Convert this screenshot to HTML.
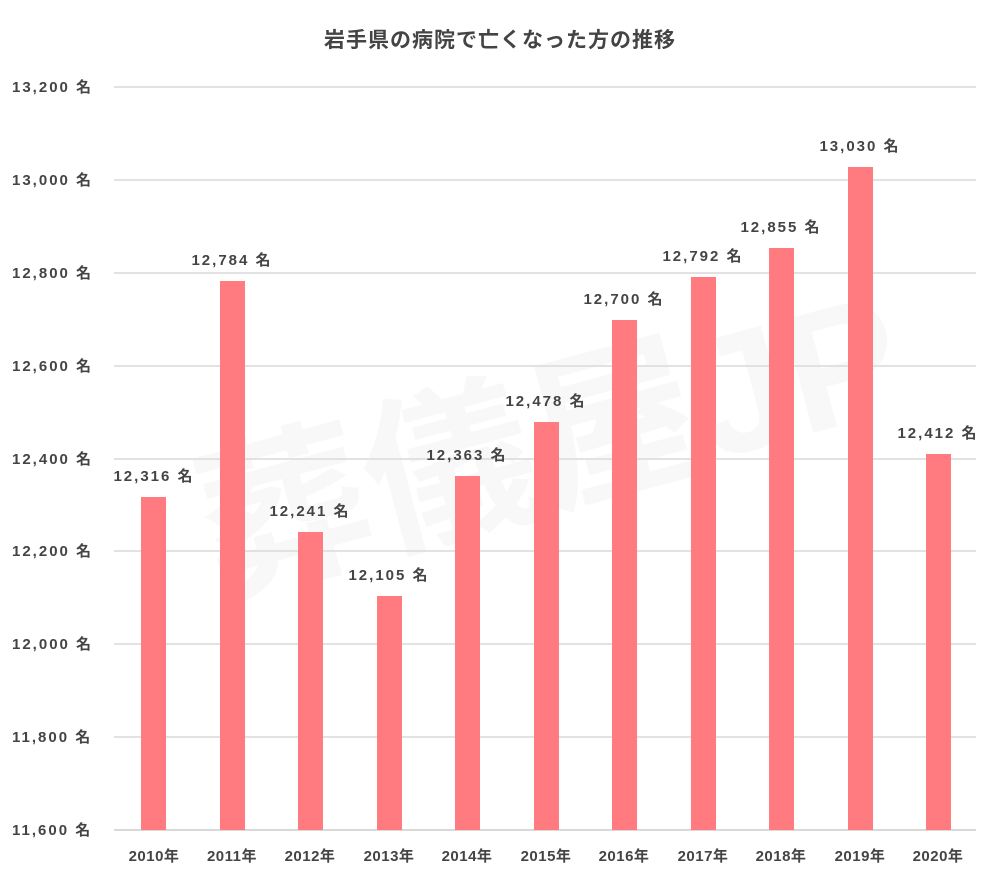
<!DOCTYPE html>
<html><head><meta charset="utf-8"><style>
body{margin:0;background:#fff}
text{font-family:"Liberation Sans","Noto Sans CJK JP",sans-serif;fill:#444;font-weight:bold}
</style></head><body>
<svg width="1000" height="883" xmlns="http://www.w3.org/2000/svg">
<rect width="1000" height="883" fill="#fff"/>
<text x="500" y="47" font-size="21" text-anchor="middle" fill="#555" letter-spacing="1">岩手県の病院で亡くなった方の推移</text>
<text x="560" y="500" font-size="170" text-anchor="middle" fill="#000" fill-opacity="0.04" transform="rotate(-15 560 480)">葬儀屋JP</text>
<g stroke="#d9d9d9" stroke-width="1.5">
<line x1="114" x2="976" y1="87" y2="87"/><line x1="114" x2="976" y1="180" y2="180"/>
<line x1="114" x2="976" y1="273" y2="273"/><line x1="114" x2="976" y1="366" y2="366"/>
<line x1="114" x2="976" y1="459" y2="459"/><line x1="114" x2="976" y1="551" y2="551"/>
<line x1="114" x2="976" y1="644" y2="644"/><line x1="114" x2="976" y1="737" y2="737"/>
<line x1="114" x2="976" y1="830" y2="830" stroke-width="2"/>
</g>
<g font-size="15" letter-spacing="2">
<text x="12" y="92">13,200 名</text><text x="12" y="185">13,000 名</text>
<text x="12" y="278">12,800 名</text><text x="12" y="371">12,600 名</text>
<text x="12" y="464">12,400 名</text><text x="12" y="556">12,200 名</text>
<text x="12" y="649">12,000 名</text><text x="12" y="742">11,800 名</text>
<text x="12" y="835">11,600 名</text>
</g>
<g fill="#ff7b80">
<rect x="141" y="497" width="25" height="333"/>
<rect x="220" y="281" width="25" height="549"/>
<rect x="298" y="532" width="25" height="298"/>
<rect x="377" y="596" width="25" height="234"/>
<rect x="455" y="476" width="25" height="354"/>
<rect x="534" y="422" width="25" height="408"/>
<rect x="612" y="320" width="25" height="510"/>
<rect x="691" y="277" width="25" height="553"/>
<rect x="769" y="248" width="25" height="582"/>
<rect x="848" y="167" width="25" height="663"/>
<rect x="926" y="454" width="25" height="376"/>
</g>
<g font-size="15" text-anchor="middle" letter-spacing="2">
<text x="154" y="481">12,316 名</text><text x="232" y="265">12,784 名</text>
<text x="310" y="516">12,241 名</text><text x="389" y="580">12,105 名</text>
<text x="467" y="460">12,363 名</text><text x="546" y="406">12,478 名</text>
<text x="624" y="304">12,700 名</text><text x="703" y="261">12,792 名</text>
<text x="781" y="232">12,855 名</text><text x="860" y="151">13,030 名</text>
<text x="938" y="438">12,412 名</text>
</g>
<g font-size="15" text-anchor="middle" letter-spacing="0.5">
<text x="154" y="861">2010年</text><text x="232" y="861">2011年</text>
<text x="310" y="861">2012年</text><text x="389" y="861">2013年</text>
<text x="467" y="861">2014年</text><text x="546" y="861">2015年</text>
<text x="624" y="861">2016年</text><text x="703" y="861">2017年</text>
<text x="781" y="861">2018年</text><text x="860" y="861">2019年</text>
<text x="938" y="861">2020年</text>
</g>
</svg>
</body></html>
